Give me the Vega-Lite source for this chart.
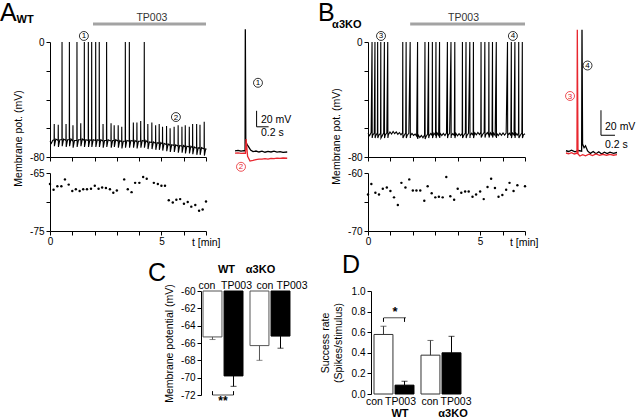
{
"$schema": "https://vega.github.io/schema/vega-lite/v6.json",
"background": "white",
"padding": 0,
"config": {
  "view": {"stroke": null},
  "font": "Liberation Sans",
  "axis": {"labelFont": "Liberation Sans", "titleFont": "Liberation Sans", "labelColor": "black", "titleColor": "black", "domainColor": "black", "tickColor": "black", "grid": false, "labelFontSize": 10, "titleFontSize": 10.5, "titleFontWeight": "normal", "tickSize": 4, "labelPadding": 2, "labelOverlap": false, "labelBound": false, "labelFlush": false},
  "title": {"font": "Liberation Sans", "fontWeight": "normal", "fontSize": 25, "anchor": "start", "frame": "group", "color": "black", "offset": 0},
  "text": {"font": "Liberation Sans"}
},
"datasets": {
  "traceA": [
    {"t":0,"v":-69},{"t":0.06,"v":-70.5},{"t":0.12,"v":-68.5},
    {"t":0.185,"v":-68},{"t":0.19,"v":-57},{"t":0.198,"v":-72.5},{"t":0.26,"v":-67.5},
    {"t":0.365,"v":-68.5},{"t":0.37,"v":-57.5},{"t":0.378,"v":-73},{"t":0.44,"v":-68},
    {"t":0.535,"v":-68},{"t":0.54,"v":0},{"t":0.548,"v":-72.5},{"t":0.61,"v":-67.5},
    {"t":0.715,"v":-68.5},{"t":0.72,"v":-57},{"t":0.728,"v":-73},{"t":0.79,"v":-68},
    {"t":0.865,"v":-68},{"t":0.87,"v":0},{"t":0.878,"v":-72.5},{"t":0.94,"v":-67.5},
    {"t":1.025,"v":-69},{"t":1.03,"v":-58},{"t":1.038,"v":-73.5},{"t":1.1,"v":-68.5},
    {"t":1.205,"v":-68.5},{"t":1.21,"v":0},{"t":1.218,"v":-73},{"t":1.28,"v":-68},
    {"t":1.375,"v":-68},{"t":1.38,"v":-56.5},{"t":1.388,"v":-72.5},{"t":1.45,"v":-67.5},
    {"t":1.535,"v":-68.5},{"t":1.54,"v":0},{"t":1.548,"v":-73},{"t":1.61,"v":-68},
    {"t":1.715,"v":-68.5},{"t":1.72,"v":0},{"t":1.728,"v":-73},{"t":1.79,"v":-68},
    {"t":1.865,"v":-68.5},{"t":1.87,"v":0},{"t":1.878,"v":-73},{"t":1.94,"v":-68},
    {"t":2.045,"v":-68.5},{"t":2.05,"v":0},{"t":2.058,"v":-73},{"t":2.12,"v":-68},
    {"t":2.205,"v":-68.5},{"t":2.21,"v":0},{"t":2.218,"v":-73},{"t":2.28,"v":-68},
    {"t":2.375,"v":-69},{"t":2.38,"v":-57},{"t":2.388,"v":-73.5},{"t":2.45,"v":-68.5},
    {"t":2.535,"v":-68.5},{"t":2.54,"v":0},{"t":2.548,"v":-73},{"t":2.61,"v":-68},
    {"t":2.735,"v":-69},{"t":2.74,"v":-56.5},{"t":2.748,"v":-73.5},{"t":2.81,"v":-68.5},
    {"t":2.875,"v":-68.5},{"t":2.88,"v":-58},{"t":2.888,"v":-73},{"t":2.95,"v":-68},
    {"t":3.055,"v":-69},{"t":3.06,"v":-58},{"t":3.068,"v":-73.5},{"t":3.13,"v":-68.5},
    {"t":3.215,"v":-69.5},{"t":3.22,"v":-59},{"t":3.228,"v":-74},{"t":3.29,"v":-69},
    {"t":3.375,"v":-69},{"t":3.38,"v":0},{"t":3.388,"v":-73.5},{"t":3.45,"v":-68.5},
    {"t":3.555,"v":-69},{"t":3.56,"v":0},{"t":3.568,"v":-73.5},{"t":3.63,"v":-68.5},
    {"t":3.735,"v":-69},{"t":3.74,"v":-56},{"t":3.748,"v":-73.5},{"t":3.81,"v":-68.5},
    {"t":3.895,"v":-69.5},{"t":3.9,"v":-56},{"t":3.908,"v":-74},{"t":3.97,"v":-69},
    {"t":4.065,"v":-69},{"t":4.07,"v":-55},{"t":4.078,"v":-73.5},{"t":4.14,"v":-68.5},
    {"t":4.225,"v":-69},{"t":4.23,"v":0},{"t":4.238,"v":-73.5},{"t":4.3,"v":-68.5},
    {"t":4.385,"v":-70},{"t":4.39,"v":-57},{"t":4.398,"v":-74.5},{"t":4.46,"v":-69.5},
    {"t":4.565,"v":-70},{"t":4.57,"v":-56},{"t":4.578,"v":-74.5},{"t":4.64,"v":-69.5},
    {"t":4.735,"v":-70.5},{"t":4.74,"v":-58},{"t":4.748,"v":-75},{"t":4.81,"v":-70},
    {"t":4.895,"v":-70.5},{"t":4.9,"v":-57},{"t":4.908,"v":-75},{"t":4.97,"v":-70},
    {"t":5.045,"v":-71},{"t":5.05,"v":-59},{"t":5.058,"v":-75.5},{"t":5.12,"v":-70.5},
    {"t":5.225,"v":-71.5},{"t":5.23,"v":-58.5},{"t":5.238,"v":-76},{"t":5.3,"v":-71},
    {"t":5.385,"v":-72},{"t":5.39,"v":-60},{"t":5.398,"v":-76.5},{"t":5.46,"v":-71.5},
    {"t":5.565,"v":-72},{"t":5.57,"v":-59},{"t":5.578,"v":-76.5},{"t":5.64,"v":-71.5},
    {"t":5.745,"v":-72.5},{"t":5.75,"v":-58},{"t":5.758,"v":-77},{"t":5.82,"v":-72},
    {"t":5.915,"v":-72.5},{"t":5.92,"v":-59},{"t":5.928,"v":-77},{"t":5.99,"v":-72},
    {"t":6.065,"v":-73},{"t":6.07,"v":-58},{"t":6.078,"v":-77.5},{"t":6.14,"v":-72.5},
    {"t":6.245,"v":-73},{"t":6.25,"v":-59},{"t":6.258,"v":-77.5},{"t":6.32,"v":-72.5},
    {"t":6.395,"v":-73.5},{"t":6.4,"v":-57},{"t":6.408,"v":-78},{"t":6.47,"v":-73},
    {"t":6.575,"v":-74},{"t":6.58,"v":-57},{"t":6.588,"v":-78.5},{"t":6.65,"v":-73.5},
    {"t":6.725,"v":-74},{"t":6.73,"v":-57.5},{"t":6.738,"v":-78.5},{"t":6.8,"v":-73.5},
    {"t":6.915,"v":-74.5},{"t":6.92,"v":-55.5},{"t":6.928,"v":-79},{"t":6.99,"v":-74},
    {"t":7.0,"v":-75}
  ],
  "traceB": [
    {"t":0,"v":-63.5},{"t":0.07,"v":-65.2},{"t":0.14,"v":-63.0},{"t":0.21,"v":-64.8},{"t":0.28,"v":-63.4},{"t":0.35,"v":-65.0},{"t":0.42,"v":-63.2},{"t":0.49,"v":-64.6},{"t":0.56,"v":-63.6},{"t":0.63,"v":-65.3},{"t":0.70,"v":-63.3},{"t":0.77,"v":-64.7},{"t":0.84,"v":-63.1},{"t":0.91,"v":-64.5},{"t":0.98,"v":-62.6},{"t":1.05,"v":-64.0},{"t":1.12,"v":-62.2},{"t":1.19,"v":-63.8},{"t":1.26,"v":-62.5},{"t":1.33,"v":-64.2},{"t":1.40,"v":-63.0},{"t":1.47,"v":-64.6},{"t":1.54,"v":-63.2},{"t":1.61,"v":-65.0},{"t":1.68,"v":-63.4},{"t":1.75,"v":-64.8},{"t":1.82,"v":-63.5},{"t":1.89,"v":-65.1},{"t":1.96,"v":-63.6},{"t":2.03,"v":-65.0},{"t":2.10,"v":-64.0},{"t":2.17,"v":-65.6},{"t":2.24,"v":-64.6},{"t":2.31,"v":-66.4},{"t":2.38,"v":-65.0},{"t":2.45,"v":-66.6},{"t":2.52,"v":-64.8},{"t":2.59,"v":-65.8},{"t":2.66,"v":-64.0},{"t":2.73,"v":-65.2},{"t":2.80,"v":-63.6},{"t":2.86,"v":-65.0},{"t":2.94,"v":-63.4},{"t":3.01,"v":-64.8},{"t":3.08,"v":-63.2},{"t":3.15,"v":-64.9},{"t":3.22,"v":-63.5},{"t":3.29,"v":-65.1},{"t":3.36,"v":-63.6},{"t":3.43,"v":-65.0},{"t":3.50,"v":-63.3},{"t":3.57,"v":-64.9},{"t":3.64,"v":-63.5},{"t":3.71,"v":-65.2},{"t":3.78,"v":-63.7},{"t":3.85,"v":-65.0},{"t":3.92,"v":-63.6},{"t":3.99,"v":-65.3},{"t":4.06,"v":-63.8},{"t":4.13,"v":-65.1},{"t":4.20,"v":-63.5},{"t":4.27,"v":-64.9},{"t":4.34,"v":-63.4},{"t":4.41,"v":-65.0},{"t":4.48,"v":-63.6},{"t":4.55,"v":-65.2},{"t":4.62,"v":-63.5},{"t":4.69,"v":-64.8},{"t":4.76,"v":-63.2},{"t":4.83,"v":-64.6},{"t":4.90,"v":-62.9},{"t":4.97,"v":-64.4},{"t":5.03,"v":-62.8},{"t":5.11,"v":-64.3},{"t":5.18,"v":-62.9},{"t":5.25,"v":-64.5},{"t":5.32,"v":-63.0},{"t":5.38,"v":-64.7},{"t":5.46,"v":-63.2},{"t":5.53,"v":-64.9},{"t":5.60,"v":-63.4},{"t":5.67,"v":-65.0},{"t":5.74,"v":-63.6},{"t":5.81,"v":-65.1},{"t":5.88,"v":-63.5},{"t":5.95,"v":-64.9},{"t":6.02,"v":-63.3},{"t":6.09,"v":-64.8},{"t":6.16,"v":-63.4},{"t":6.23,"v":-65.0},{"t":6.30,"v":-63.5},{"t":6.37,"v":-64.9},{"t":6.44,"v":-63.3},{"t":6.51,"v":-64.7},{"t":6.58,"v":-63.2},{"t":6.65,"v":-64.8},{"t":6.71,"v":-63.4},{"t":6.79,"v":-64.9},{"t":6.86,"v":-63.3},{"t":6.93,"v":-64.6},{"t":7.0,"v":-63.8},
    {"t":0.18,"v":0},{"t":0.187,"v":-66.8},{"t":0.31,"v":0},{"t":0.317,"v":-66.8},{"t":0.43,"v":0},{"t":0.437,"v":-66.8},{"t":0.57,"v":0},{"t":0.577,"v":-66.8},{"t":0.73,"v":0},{"t":0.737,"v":-66.8},{"t":0.88,"v":0},{"t":0.887,"v":-66.8},
    {"t":1.55,"v":0},{"t":1.557,"v":-66.8},{"t":1.70,"v":0},{"t":1.707,"v":-66.8},{"t":1.88,"v":0},{"t":1.887,"v":-66.8},{"t":2.21,"v":0},{"t":2.217,"v":-67.5},
    {"t":2.54,"v":0},{"t":2.547,"v":-67.5},{"t":2.70,"v":0},{"t":2.707,"v":-66.8},{"t":2.87,"v":0},{"t":2.877,"v":-66.8},{"t":3.03,"v":0},{"t":3.037,"v":-66.8},{"t":3.19,"v":0},{"t":3.197,"v":-66.8},
    {"t":3.54,"v":0},{"t":3.547,"v":-66.8},{"t":3.70,"v":0},{"t":3.707,"v":-66.8},{"t":3.87,"v":0},{"t":3.877,"v":-66.8},
    {"t":4.21,"v":0},{"t":4.217,"v":-66.8},{"t":4.37,"v":0},{"t":4.377,"v":-66.8},{"t":4.54,"v":0},{"t":4.547,"v":-66.8},{"t":4.70,"v":0},{"t":4.707,"v":-66.8},
    {"t":5.04,"v":0},{"t":5.047,"v":-66.5},{"t":5.21,"v":0},{"t":5.217,"v":-66.5},{"t":5.39,"v":0},{"t":5.397,"v":-66.5},{"t":5.55,"v":0},{"t":5.557,"v":-66.5},{"t":5.72,"v":0},{"t":5.727,"v":-66.8},
    {"t":6.22,"v":0},{"t":6.227,"v":-66.8},{"t":6.39,"v":0},{"t":6.397,"v":-66.8},{"t":6.55,"v":0},{"t":6.557,"v":-66.8},{"t":6.72,"v":0},{"t":6.727,"v":-66.8},{"t":6.88,"v":0},{"t":6.887,"v":-66.8}
  ],
  "scatterA": [
    {"t":0,"v":-66.9},{"t":0.16,"v":-67.9},{"t":0.33,"v":-67.3},{"t":0.51,"v":-67.3},{"t":0.67,"v":-66.1},{"t":0.84,"v":-67.0},{"t":1.0,"v":-68.1},{"t":1.16,"v":-67.8},{"t":1.33,"v":-68.1},{"t":1.49,"v":-67.8},{"t":1.66,"v":-67.8},{"t":1.84,"v":-67.7},{"t":2.01,"v":-67.2},{"t":2.18,"v":-67.7},{"t":2.34,"v":-67.5},{"t":2.51,"v":-67.6},{"t":2.69,"v":-67.8},{"t":2.84,"v":-68.4},{"t":3.0,"v":-68.0},{"t":3.33,"v":-66.1},{"t":3.49,"v":-67.8},{"t":3.66,"v":-68.3},{"t":3.82,"v":-66.7},{"t":4.01,"v":-66.7},{"t":4.18,"v":-65.7},{"t":4.34,"v":-66.0},{"t":4.66,"v":-66.7},{"t":4.84,"v":-66.9},{"t":5.0,"v":-67.2},{"t":5.16,"v":-67.2},{"t":5.33,"v":-69.7},{"t":5.51,"v":-70.1},{"t":5.67,"v":-69.6},{"t":5.84,"v":-69.5},{"t":6.01,"v":-70.3},{"t":6.18,"v":-70.0},{"t":6.34,"v":-70.8},{"t":6.52,"v":-70.5},{"t":6.69,"v":-71.5},{"t":6.85,"v":-71.3},{"t":7.0,"v":-69.9}
  ],
  "scatterB": [
    {"t":0,"v":-63.7},{"t":0.15,"v":-61.9},{"t":0.33,"v":-63.4},{"t":0.49,"v":-63.7},{"t":0.66,"v":-62.7},{"t":0.84,"v":-62.5},{"t":1.0,"v":-63.1},{"t":1.16,"v":-64.2},{"t":1.33,"v":-65.5},{"t":1.49,"v":-61.7},{"t":1.67,"v":-62.5},{"t":1.84,"v":-61.1},{"t":2.0,"v":-63.0},{"t":2.16,"v":-63.0},{"t":2.33,"v":-63.0},{"t":2.51,"v":-64.8},{"t":2.66,"v":-62.3},{"t":2.84,"v":-63.5},{"t":3.0,"v":-64.2},{"t":3.16,"v":-64.1},{"t":3.33,"v":-64.2},{"t":3.49,"v":-60.7},{"t":3.67,"v":-64.0},{"t":3.84,"v":-64.6},{"t":4.0,"v":-62.7},{"t":4.16,"v":-63.4},{"t":4.33,"v":-63.2},{"t":4.49,"v":-63.2},{"t":4.66,"v":-64.1},{"t":4.82,"v":-63.7},{"t":5.0,"v":-63.2},{"t":5.16,"v":-64.5},{"t":5.33,"v":-62.4},{"t":5.49,"v":-61.0},{"t":5.66,"v":-62.6},{"t":5.82,"v":-64.1},{"t":5.99,"v":-63.8},{"t":6.16,"v":-62.9},{"t":6.31,"v":-61.7},{"t":6.49,"v":-63.1},{"t":6.66,"v":-62.1},{"t":7.0,"v":-62.3}
  ],
  "insetA": [
    {"t":0,"v":-63,"s":"black"},{"t":0.05,"v":-62.5,"s":"black"},{"t":0.1,"v":-63.5,"s":"black"},{"t":0.15,"v":-62.8,"s":"black"},{"t":0.168,"v":-63,"s":"black"},{"t":0.172,"v":89,"s":"black"},{"t":0.18,"v":-52,"s":"black"},{"t":0.2,"v":-55,"s":"black"},{"t":0.23,"v":-58.3,"s":"black"},{"t":0.26,"v":-62,"s":"black"},{"t":0.3,"v":-64,"s":"black"},{"t":0.35,"v":-63.3,"s":"black"},{"t":0.4,"v":-64.5,"s":"black"},{"t":0.45,"v":-63.5,"s":"black"},{"t":0.5,"v":-64.8,"s":"black"},{"t":0.55,"v":-63.8,"s":"black"},{"t":0.6,"v":-64.5,"s":"black"},{"t":0.65,"v":-63.5,"s":"black"},{"t":0.7,"v":-64.6,"s":"black"},{"t":0.75,"v":-64,"s":"black"},{"t":0.8,"v":-65,"s":"black"},{"t":0.87,"v":-64.5,"s":"black"},
    {"t":0,"v":-66,"s":"red"},{"t":0.05,"v":-65.5,"s":"red"},{"t":0.1,"v":-66.3,"s":"red"},{"t":0.15,"v":-65.8,"s":"red"},{"t":0.175,"v":-66,"s":"red"},{"t":0.185,"v":-48.3,"s":"red"},{"t":0.21,"v":-70,"s":"red"},{"t":0.25,"v":-75.8,"s":"red"},{"t":0.3,"v":-75,"s":"red"},{"t":0.35,"v":-74,"s":"red"},{"t":0.4,"v":-73.5,"s":"red"},{"t":0.45,"v":-73.3,"s":"red"},{"t":0.5,"v":-72.8,"s":"red"},{"t":0.55,"v":-73.3,"s":"red"},{"t":0.6,"v":-72.5,"s":"red"},{"t":0.65,"v":-72.8,"s":"red"},{"t":0.7,"v":-72.2,"s":"red"},{"t":0.75,"v":-72.5,"s":"red"},{"t":0.8,"v":-72,"s":"red"},{"t":0.87,"v":-72.3,"s":"red"}
  ],
  "insetB": [
    {"t":0.171,"v":-63.4,"s":"black"},{"t":0.21,"v":-64,"s":"black"},{"t":0.25,"v":-63,"s":"black"},{"t":0.3,"v":-64.2,"s":"black"},{"t":0.35,"v":-63.2,"s":"black"},{"t":0.395,"v":-63.8,"s":"black"},{"t":0.4,"v":33.4,"s":"black"},{"t":0.408,"v":-58,"s":"black"},{"t":0.43,"v":-61,"s":"black"},{"t":0.45,"v":-59.4,"s":"black"},{"t":0.48,"v":-63.5,"s":"black"},{"t":0.52,"v":-65.5,"s":"black"},{"t":0.56,"v":-64,"s":"black"},{"t":0.6,"v":-65.8,"s":"black"},{"t":0.64,"v":-64.2,"s":"black"},{"t":0.68,"v":-66,"s":"black"},{"t":0.72,"v":-64.5,"s":"black"},{"t":0.76,"v":-65.6,"s":"black"},{"t":0.8,"v":-64.6,"s":"black"},{"t":0.85,"v":-65.5,"s":"black"},{"t":0.9,"v":-64.8,"s":"black"},
    {"t":0.171,"v":-65.2,"s":"red"},{"t":0.21,"v":-65.8,"s":"red"},{"t":0.25,"v":-65,"s":"red"},{"t":0.29,"v":-66,"s":"red"},{"t":0.328,"v":-65.4,"s":"red"},{"t":0.333,"v":33.4,"s":"red"},{"t":0.343,"v":-66,"s":"red"},{"t":0.37,"v":-67.6,"s":"red"},{"t":0.41,"v":-66.5,"s":"red"},{"t":0.45,"v":-67.5,"s":"red"},{"t":0.5,"v":-66.2,"s":"red"},{"t":0.55,"v":-67.3,"s":"red"},{"t":0.6,"v":-66,"s":"red"},{"t":0.65,"v":-67,"s":"red"},{"t":0.7,"v":-66.2,"s":"red"},{"t":0.75,"v":-67,"s":"red"},{"t":0.8,"v":-66.3,"s":"red"},{"t":0.85,"v":-67,"s":"red"},{"t":0.9,"v":-66.5,"s":"red"}
  ],
  "barsC": [
    {"group":"WT","cond":"con","mean":-65.3,"err":-65.6},
    {"group":"WT","cond":"TP003","mean":-69.8,"err":-71.0},
    {"group":"α3KO","cond":"con","mean":-66.3,"err":-68.0},
    {"group":"α3KO","cond":"TP003","mean":-65.2,"err":-66.6}
  ],
  "barsD": [
    {"group":"WT","cond":"con","mean":0.578,"err":0.658},
    {"group":"WT","cond":"TP003","mean":0.086,"err":0.125},
    {"group":"α3KO","cond":"con","mean":0.377,"err":0.52},
    {"group":"α3KO","cond":"TP003","mean":0.40,"err":0.56}
  ]
},
"spacing": 5,
"vconcat": [
 {
  "columns": 4,
  "bounds": "flush",
  "align": "each",
  "spacing": {"row": 16, "column": 29},
  "concat": [
   {
    "width": 156, "height": 115,
    "title": {"text": "A", "dx": -50, "dy": 17},
    "layer": [
     {"data": {"name": "traceA"}, "mark": {"type": "line", "color": "black", "strokeWidth": 1.1},
      "encoding": {
       "x": {"field": "t", "type": "quantitative", "scale": {"domain": [0, 7], "nice": false, "zero": false}, "axis": {"values": [0,1,2,3,4,5,6,7], "tickCount": 8, "labels": false, "title": null}},
       "y": {"field": "v", "type": "quantitative", "scale": {"domain": [-80, 0], "nice": false}, "axis": {"values": [-80,-60,-40,-20,0], "tickCount": 5, "labelExpr": "datum.value == 0 ? '0' : (datum.value == -80 ? '-80' : '')", "title": "Membrane pot. (mV)", "titleY": 96, "titlePadding": 6}}
      }},
     {"data": {"values": [{}]}, "mark": {"type": "rule", "color": "#a3a3a3", "strokeWidth": 3}, "encoding": {"x": {"datum": 1.93}, "x2": {"datum": 7}, "y": {"datum": 12.5}}},
     {"data": {"values": [{}]}, "mark": {"type": "text", "fontSize": 10.5, "color": "#333333"}, "encoding": {"x": {"datum": 4.57}, "y": {"datum": 17}, "text": {"value": "TP003"}}},
     {"data": {"values": [{}]}, "mark": {"type": "text", "fontSize": 11, "fontWeight": "bold", "align": "left"}, "encoding": {"x": {"datum": -1.5}, "y": {"datum": 15}, "text": {"value": "WT"}}},
     {"data": {"values": [{"t": 1.52, "v": 4.2, "n": "1"}, {"t": 5.65, "v": -52.2, "n": "2"}]}, "mark": {"type": "point", "shape": "circle", "size": 80, "filled": true, "fill": "white", "stroke": "black", "strokeWidth": 0.8, "opacity": 1}, "encoding": {"x": {"field": "t", "type": "quantitative"}, "y": {"field": "v", "type": "quantitative"}}},
     {"data": {"values": [{"t": 1.52, "v": 4.2, "n": "1"}, {"t": 5.65, "v": -52.2, "n": "2"}]}, "mark": {"type": "text", "fontSize": 8, "baseline": "middle", "dy": 0.5}, "encoding": {"x": {"field": "t", "type": "quantitative"}, "y": {"field": "v", "type": "quantitative"}, "text": {"field": "n"}}}
    ]
   },
   {
    "width": 104, "height": 115,
    "layer": [
     {"data": {"name": "insetA"}, "mark": {"type": "line", "strokeWidth": 1.3},
      "encoding": {
       "x": {"field": "t", "type": "quantitative", "scale": {"domain": [0, 1.7333], "nice": false, "zero": false}, "axis": null},
       "y": {"field": "v", "type": "quantitative", "scale": {"domain": [-70.75, 73], "nice": false, "zero": false}, "axis": null},
       "color": {"field": "s", "type": "nominal", "scale": {"domain": ["black", "red"], "range": ["black", "#e8262e"]}, "legend": null}
      }},
     {"data": {"values": [{}]}, "mark": {"type": "rule", "color": "black", "strokeWidth": 1}, "encoding": {"x": {"datum": 0.36}, "y": {"datum": -33}, "y2": {"datum": -13}}},
     {"data": {"values": [{}]}, "mark": {"type": "rule", "color": "black", "strokeWidth": 1}, "encoding": {"x": {"datum": 0.36}, "x2": {"datum": 0.56}, "y": {"datum": -33}}},
     {"data": {"values": [{}]}, "mark": {"type": "text", "fontSize": 10.5, "align": "left", "baseline": "middle"}, "encoding": {"x": {"datum": 0.433}, "y": {"datum": -24.5}, "text": {"value": "20 mV"}}},
     {"data": {"values": [{}]}, "mark": {"type": "text", "fontSize": 10.5, "align": "left", "baseline": "top"}, "encoding": {"x": {"datum": 0.433}, "y": {"datum": -34.5}, "text": {"value": "0.2 s"}}},
     {"data": {"values": [{"t": 0.383, "v": 22, "n": "1", "s": "black"}, {"t": 0.1, "v": -83, "n": "2", "s": "red"}]}, "mark": {"type": "point", "shape": "circle", "size": 80, "filled": true, "fill": "white", "strokeWidth": 0.8, "opacity": 1}, "encoding": {"x": {"field": "t", "type": "quantitative"}, "y": {"field": "v", "type": "quantitative"}, "stroke": {"field": "s", "type": "nominal", "scale": {"domain": ["black", "red"], "range": ["black", "#e8262e"]}, "legend": null}}},
     {"data": {"values": [{"t": 0.383, "v": 22, "n": "1", "s": "black"}, {"t": 0.1, "v": -83, "n": "2", "s": "red"}]}, "mark": {"type": "text", "fontSize": 8, "baseline": "middle", "dy": 0.5}, "encoding": {"x": {"field": "t", "type": "quantitative"}, "y": {"field": "v", "type": "quantitative"}, "text": {"field": "n"}, "color": {"field": "s", "type": "nominal", "legend": null}}}
    ]
   },
   {
    "width": 157, "height": 115,
    "title": {"text": "B", "dx": -50, "dy": 17},
    "layer": [
     {"data": {"name": "traceB"}, "mark": {"type": "line", "color": "black", "strokeWidth": 1.1},
      "encoding": {
       "x": {"field": "t", "type": "quantitative", "scale": {"domain": [0, 7], "nice": false, "zero": false}, "axis": {"values": [0,1,2,3,4,5,6,7], "tickCount": 8, "labels": false, "title": null}},
       "y": {"field": "v", "type": "quantitative", "scale": {"domain": [-80, 0], "nice": false}, "axis": {"values": [-80,-60,-40,-20,0], "tickCount": 5, "labelExpr": "datum.value == 0 ? '0' : (datum.value == -80 ? '-80' : '')", "title": "Membrane pot. (mV)", "titleY": 94, "titlePadding": 6}}
      }},
     {"data": {"values": [{}]}, "mark": {"type": "rule", "color": "#a3a3a3", "strokeWidth": 3}, "encoding": {"x": {"datum": 1.88}, "x2": {"datum": 7}, "y": {"datum": 12.5}}},
     {"data": {"values": [{}]}, "mark": {"type": "text", "fontSize": 10.5, "color": "#333333"}, "encoding": {"x": {"datum": 4.26}, "y": {"datum": 17}, "text": {"value": "TP003"}}},
     {"data": {"values": [{}]}, "mark": {"type": "text", "fontSize": 11, "fontWeight": "bold", "align": "left"}, "encoding": {"x": {"datum": -1.6}, "y": {"datum": 12}, "text": {"value": "α3KO"}}},
     {"data": {"values": [{"t": 0.58, "v": 4.2, "n": "3"}, {"t": 6.46, "v": 4.2, "n": "4"}]}, "mark": {"type": "point", "shape": "circle", "size": 80, "filled": true, "fill": "white", "stroke": "black", "strokeWidth": 0.8, "opacity": 1}, "encoding": {"x": {"field": "t", "type": "quantitative"}, "y": {"field": "v", "type": "quantitative"}}},
     {"data": {"values": [{"t": 0.58, "v": 4.2, "n": "3"}, {"t": 6.46, "v": 4.2, "n": "4"}]}, "mark": {"type": "text", "fontSize": 8, "baseline": "middle", "dy": 0.5}, "encoding": {"x": {"field": "t", "type": "quantitative"}, "y": {"field": "v", "type": "quantitative"}, "text": {"field": "n"}}}
    ]
   },
   {
    "width": 64, "height": 115,
    "layer": [
     {"data": {"name": "insetB"}, "mark": {"type": "line", "strokeWidth": 1.3},
      "encoding": {
       "x": {"field": "t", "type": "quantitative", "scale": {"domain": [0, 0.9143], "nice": false, "zero": false}, "axis": null},
       "y": {"field": "v", "type": "quantitative", "scale": {"domain": [-68.4, 23.6], "nice": false, "zero": false}, "axis": null},
       "color": {"field": "s", "type": "nominal", "scale": {"domain": ["black", "red"], "range": ["black", "#e8262e"]}, "legend": null}
      }},
     {"data": {"values": [{}]}, "mark": {"type": "rule", "color": "black", "strokeWidth": 1}, "encoding": {"x": {"datum": 0.671}, "y": {"datum": -51}, "y2": {"datum": -31}}},
     {"data": {"values": [{}]}, "mark": {"type": "rule", "color": "black", "strokeWidth": 1}, "encoding": {"x": {"datum": 0.671}, "x2": {"datum": 0.871}, "y": {"datum": -51}}},
     {"data": {"values": [{}]}, "mark": {"type": "text", "fontSize": 10.5, "align": "left", "baseline": "middle"}, "encoding": {"x": {"datum": 0.729}, "y": {"datum": -44}, "text": {"value": "20 mV"}}},
     {"data": {"values": [{}]}, "mark": {"type": "text", "fontSize": 10.5, "align": "left", "baseline": "middle"}, "encoding": {"x": {"datum": 0.729}, "y": {"datum": -58.8}, "text": {"value": "0.2 s"}}},
     {"data": {"values": [{"t": 0.229, "v": -19.6, "n": "3", "s": "red"}, {"t": 0.479, "v": 4.8, "n": "4", "s": "black"}]}, "mark": {"type": "point", "shape": "circle", "size": 80, "filled": true, "fill": "white", "strokeWidth": 0.8, "opacity": 1}, "encoding": {"x": {"field": "t", "type": "quantitative"}, "y": {"field": "v", "type": "quantitative"}, "stroke": {"field": "s", "type": "nominal", "scale": {"domain": ["black", "red"], "range": ["black", "#e8262e"]}, "legend": null}}},
     {"data": {"values": [{"t": 0.229, "v": -19.6, "n": "3", "s": "red"}, {"t": 0.479, "v": 4.8, "n": "4", "s": "black"}]}, "mark": {"type": "text", "fontSize": 8, "baseline": "middle", "dy": 0.5}, "encoding": {"x": {"field": "t", "type": "quantitative"}, "y": {"field": "v", "type": "quantitative"}, "text": {"field": "n"}, "color": {"field": "s", "type": "nominal", "legend": null}}}
    ]
   },
   {
    "width": 156, "height": 58,
    "data": {"name": "scatterA"},
    "mark": {"type": "point", "filled": true, "size": 6, "color": "black", "opacity": 1},
    "encoding": {
     "x": {"field": "t", "type": "quantitative", "scale": {"domain": [0, 7], "nice": false, "zero": false}, "axis": {"values": [0,1,2,3,4,5,6,7], "tickCount": 8, "labelExpr": "datum.value == 0 ? '0' : (datum.value == 5 ? '5' : '')", "labelPadding": 1, "title": "t [min]", "titleX": 170, "titleY": 6, "titleAlign": "right", "titleBaseline": "top", "titleFontSize": 10.5}},
     "y": {"field": "v", "type": "quantitative", "scale": {"domain": [-75, -65], "nice": false, "zero": false}, "axis": {"values": [-75,-70,-65], "tickCount": 3, "labelExpr": "datum.value == -75 ? '-75' : (datum.value == -65 ? '-65' : '')", "title": null}}
    }
   },
   {
    "width": 104, "height": 58,
    "data": {"values": [{}]},
    "mark": {"type": "point", "opacity": 0}
   },
   {
    "width": 157, "height": 58,
    "data": {"name": "scatterB"},
    "mark": {"type": "point", "filled": true, "size": 6, "color": "black", "opacity": 1},
    "encoding": {
     "x": {"field": "t", "type": "quantitative", "scale": {"domain": [0, 7], "nice": false, "zero": false}, "axis": {"values": [0,1,2,3,4,5,6,7], "tickCount": 8, "labelExpr": "datum.value == 0 ? '0' : (datum.value == 5 ? '5' : '')", "labelPadding": 1, "title": "t [min]", "titleX": 170, "titleY": 6, "titleAlign": "right", "titleBaseline": "top", "titleFontSize": 10.5}},
     "y": {"field": "v", "type": "quantitative", "scale": {"domain": [-70, -60], "nice": false, "zero": false}, "axis": {"values": [-70,-65,-60], "tickCount": 3, "labelExpr": "datum.value == -70 ? '-70' : (datum.value == -60 ? '-60' : '')", "title": null}}
    }
   }
  ]
 },
 {
  "bounds": "flush",
  "spacing": 79,
  "hconcat": [
   {
    "width": 72, "height": 104,
    "data": {"values": [{}]},
    "mark": {"type": "point", "opacity": 0}
   },
   {
    "width": 91, "height": 104,
    "title": {"text": "C", "dx": -53, "dy": 26},
    "data": {"name": "barsC"},
    "layer": [
     {"mark": {"type": "bar", "strokeWidth": 1},
      "encoding": {
       "x": {"field": "group", "type": "nominal", "sort": ["WT", "α3KO"], "scale": {"paddingInner": 0.149, "paddingOuter": 0.043}, "axis": null},
       "xOffset": {"field": "cond", "type": "nominal", "sort": ["con", "TP003"], "scale": {"paddingInner": 0.1, "paddingOuter": 0}},
       "y": {"field": "mean", "type": "quantitative", "scale": {"domain": [-72, -60], "nice": false, "zero": false}, "axis": {"tickCount": 7, "values": [-72,-70,-68,-66,-64,-62,-60], "labelExpr": "'' + datum.value", "labelSeparation": 0, "title": "Membrane potential (mV)", "titlePadding": 6}},
       "y2": {"datum": -60},
       "fill": {"condition": {"test": "datum.cond == 'con'", "value": "white"}, "value": "black"},
       "stroke": {"condition": {"test": "datum.cond == 'con'", "value": "#555555"}, "value": "black"}
      }},
     {"mark": {"type": "rule", "strokeWidth": 1},
      "encoding": {
       "x": {"field": "group", "type": "nominal", "sort": ["WT", "α3KO"]},
       "xOffset": {"field": "cond", "type": "nominal", "sort": ["con", "TP003"]},
       "y": {"field": "mean", "type": "quantitative"}, "y2": {"field": "err"},
       "stroke": {"condition": {"test": "datum.cond == 'con'", "value": "#555555"}, "value": "black"}
      }},
     {"mark": {"type": "tick", "thickness": 1, "size": 6},
      "encoding": {
       "x": {"field": "group", "type": "nominal", "sort": ["WT", "α3KO"]},
       "xOffset": {"field": "cond", "type": "nominal", "sort": ["con", "TP003"]},
       "y": {"field": "err", "type": "quantitative"},
       "color": {"condition": {"test": "datum.cond == 'con'", "value": "#555555"}, "value": "black"}
      }},
     {"transform": [{"filter": "datum.group == 'WT' && datum.cond == 'con'"}], "mark": {"type": "text", "baseline": "alphabetic", "dy": -2, "dx": -5.5, "fontSize": 10.5},
      "encoding": {"x": {"field": "group", "type": "nominal", "sort": ["WT", "α3KO"]}, "xOffset": {"field": "cond", "type": "nominal", "sort": ["con", "TP003"]}, "y": {"datum": -60}, "text": {"field": "cond"}}},
     {"transform": [{"filter": "datum.group == 'WT' && datum.cond == 'TP003'"}], "mark": {"type": "text", "baseline": "alphabetic", "dy": -2, "dx": 3, "fontSize": 10.5},
      "encoding": {"x": {"field": "group", "type": "nominal", "sort": ["WT", "α3KO"]}, "xOffset": {"field": "cond", "type": "nominal", "sort": ["con", "TP003"]}, "y": {"datum": -60}, "text": {"field": "cond"}}},
     {"transform": [{"filter": "datum.group == 'α3KO' && datum.cond == 'con'"}], "mark": {"type": "text", "baseline": "alphabetic", "dy": -2, "dx": 5.5, "fontSize": 10.5},
      "encoding": {"x": {"field": "group", "type": "nominal", "sort": ["WT", "α3KO"]}, "xOffset": {"field": "cond", "type": "nominal", "sort": ["con", "TP003"]}, "y": {"datum": -60}, "text": {"field": "cond"}}},
     {"transform": [{"filter": "datum.group == 'α3KO' && datum.cond == 'TP003'"}], "mark": {"type": "text", "baseline": "alphabetic", "dy": -2, "dx": 11.5, "fontSize": 10.5},
      "encoding": {"x": {"field": "group", "type": "nominal", "sort": ["WT", "α3KO"]}, "xOffset": {"field": "cond", "type": "nominal", "sort": ["con", "TP003"]}, "y": {"datum": -60}, "text": {"field": "cond"}}},
     {"transform": [{"filter": "datum.group == 'WT' && datum.cond == 'con'"}], "mark": {"type": "text", "baseline": "alphabetic", "dy": -18, "dx": 3.5, "fontSize": 11, "fontWeight": "bold"},
      "encoding": {"x": {"field": "group", "type": "nominal", "sort": ["WT", "α3KO"]}, "y": {"datum": -60}, "text": {"field": "group"}}},
     {"transform": [{"filter": "datum.group == 'α3KO' && datum.cond == 'con'"}], "mark": {"type": "text", "baseline": "alphabetic", "dy": -18, "dx": -9.5, "fontSize": 11, "fontWeight": "bold"},
      "encoding": {"x": {"field": "group", "type": "nominal", "sort": ["WT", "α3KO"]}, "y": {"datum": -60}, "text": {"field": "group"}}},
     {"transform": [{"filter": "datum.group == 'WT'"}], "mark": {"type": "rule", "color": "black", "strokeWidth": 1},
      "encoding": {
       "x": {"field": "group", "type": "nominal", "sort": ["WT", "α3KO"]},
       "xOffset": {"field": "cond", "type": "nominal", "sort": ["con", "TP003"]},
       "y": {"datum": -71.55}, "y2": {"datum": -72}
      }},
     {"transform": [{"filter": "datum.group == 'WT' && datum.cond == 'con'"}], "mark": {"type": "tick", "size": 21, "thickness": 1, "color": "black"},
      "encoding": {"x": {"field": "group", "type": "nominal", "sort": ["WT", "α3KO"]}, "y": {"datum": -72}}},
     {"transform": [{"filter": "datum.group == 'WT' && datum.cond == 'con'"}], "mark": {"type": "text", "baseline": "top", "dy": 1, "fontSize": 12, "fontWeight": "bold", "text": "**"},
      "encoding": {"x": {"field": "group", "type": "nominal", "sort": ["WT", "α3KO"]}, "y": {"datum": -72}}}
    ]
   },
   {
    "width": 95, "height": 103,
    "title": {"text": "D", "dx": -29, "dy": -4},
    "data": {"name": "barsD"},
    "layer": [
     {"mark": {"type": "bar", "strokeWidth": 1},
      "encoding": {
       "x": {"field": "group", "type": "nominal", "sort": ["WT", "α3KO"], "scale": {"paddingInner": 0.106, "paddingOuter": 0.064}, "axis": null},
       "xOffset": {"field": "cond", "type": "nominal", "sort": ["con", "TP003"], "scale": {"paddingInner": 0.09, "paddingOuter": 0}},
       "y": {"field": "mean", "type": "quantitative", "scale": {"domain": [0, 1], "nice": false}, "axis": {"tickCount": 6, "values": [0,0.2,0.4,0.6,0.8,1], "labelExpr": "format(datum.value, '.1f')", "labelSeparation": 0, "title": ["Success rate", "(Spikes/stimulus)"], "titlePadding": 8}},
       "y2": {"datum": 0},
       "fill": {"condition": {"test": "datum.cond == 'con'", "value": "white"}, "value": "black"},
       "stroke": {"condition": {"test": "datum.cond == 'con'", "value": "#333333"}, "value": "black"}
      }},
     {"mark": {"type": "rule", "strokeWidth": 1},
      "encoding": {
       "x": {"field": "group", "type": "nominal", "sort": ["WT", "α3KO"]},
       "xOffset": {"field": "cond", "type": "nominal", "sort": ["con", "TP003"]},
       "y": {"field": "mean", "type": "quantitative"}, "y2": {"field": "err"},
       "stroke": {"condition": {"test": "datum.cond == 'con'", "value": "#333333"}, "value": "black"}
      }},
     {"mark": {"type": "tick", "thickness": 1, "size": 6},
      "encoding": {
       "x": {"field": "group", "type": "nominal", "sort": ["WT", "α3KO"]},
       "xOffset": {"field": "cond", "type": "nominal", "sort": ["con", "TP003"]},
       "y": {"field": "err", "type": "quantitative"},
       "color": {"condition": {"test": "datum.cond == 'con'", "value": "#333333"}, "value": "black"}
      }},
     {"transform": [{"filter": "datum.group == 'WT' && datum.cond == 'con'"}], "mark": {"type": "text", "baseline": "top", "dy": 3, "dx": -9, "fontSize": 10.5},
      "encoding": {"x": {"field": "group", "type": "nominal", "sort": ["WT", "α3KO"]}, "xOffset": {"field": "cond", "type": "nominal", "sort": ["con", "TP003"]}, "y": {"datum": 0}, "text": {"field": "cond"}}},
     {"transform": [{"filter": "datum.group == 'WT' && datum.cond == 'TP003'"}], "mark": {"type": "text", "baseline": "top", "dy": 3, "dx": -4, "fontSize": 10.5},
      "encoding": {"x": {"field": "group", "type": "nominal", "sort": ["WT", "α3KO"]}, "xOffset": {"field": "cond", "type": "nominal", "sort": ["con", "TP003"]}, "y": {"datum": 0}, "text": {"field": "cond"}}},
     {"transform": [{"filter": "datum.group == 'α3KO' && datum.cond == 'con'"}], "mark": {"type": "text", "baseline": "top", "dy": 3, "dx": -0.5, "fontSize": 10.5},
      "encoding": {"x": {"field": "group", "type": "nominal", "sort": ["WT", "α3KO"]}, "xOffset": {"field": "cond", "type": "nominal", "sort": ["con", "TP003"]}, "y": {"datum": 0}, "text": {"field": "cond"}}},
     {"transform": [{"filter": "datum.group == 'α3KO' && datum.cond == 'TP003'"}], "mark": {"type": "text", "baseline": "top", "dy": 3, "dx": 4.5, "fontSize": 10.5},
      "encoding": {"x": {"field": "group", "type": "nominal", "sort": ["WT", "α3KO"]}, "xOffset": {"field": "cond", "type": "nominal", "sort": ["con", "TP003"]}, "y": {"datum": 0}, "text": {"field": "cond"}}},
     {"transform": [{"filter": "datum.group == 'WT' && datum.cond == 'con'"}], "mark": {"type": "text", "baseline": "top", "dy": 14, "dx": 5, "fontSize": 11, "fontWeight": "bold"},
      "encoding": {"x": {"field": "group", "type": "nominal", "sort": ["WT", "α3KO"]}, "y": {"datum": 0}, "text": {"field": "group"}}},
     {"transform": [{"filter": "datum.group == 'α3KO' && datum.cond == 'con'"}], "mark": {"type": "text", "baseline": "top", "dy": 14, "dx": 11, "fontSize": 11, "fontWeight": "bold"},
      "encoding": {"x": {"field": "group", "type": "nominal", "sort": ["WT", "α3KO"]}, "y": {"datum": 0}, "text": {"field": "group"}}},
     {"transform": [{"filter": "datum.group == 'WT'"}], "mark": {"type": "rule", "color": "black", "strokeWidth": 1},
      "encoding": {
       "x": {"field": "group", "type": "nominal", "sort": ["WT", "α3KO"]},
       "xOffset": {"field": "cond", "type": "nominal", "sort": ["con", "TP003"]},
       "y": {"datum": 0.70}, "y2": {"datum": 0.74}
      }},
     {"transform": [{"filter": "datum.group == 'WT' && datum.cond == 'con'"}], "mark": {"type": "tick", "size": 22, "thickness": 1, "color": "black"},
      "encoding": {"x": {"field": "group", "type": "nominal", "sort": ["WT", "α3KO"]}, "y": {"datum": 0.74}}},
     {"transform": [{"filter": "datum.group == 'WT' && datum.cond == 'con'"}], "mark": {"type": "text", "baseline": "bottom", "dy": 1, "fontSize": 13, "fontWeight": "bold", "text": "*"},
      "encoding": {"x": {"field": "group", "type": "nominal", "sort": ["WT", "α3KO"]}, "y": {"datum": 0.74}}}
    ]
   }
  ]
 }
]
}
